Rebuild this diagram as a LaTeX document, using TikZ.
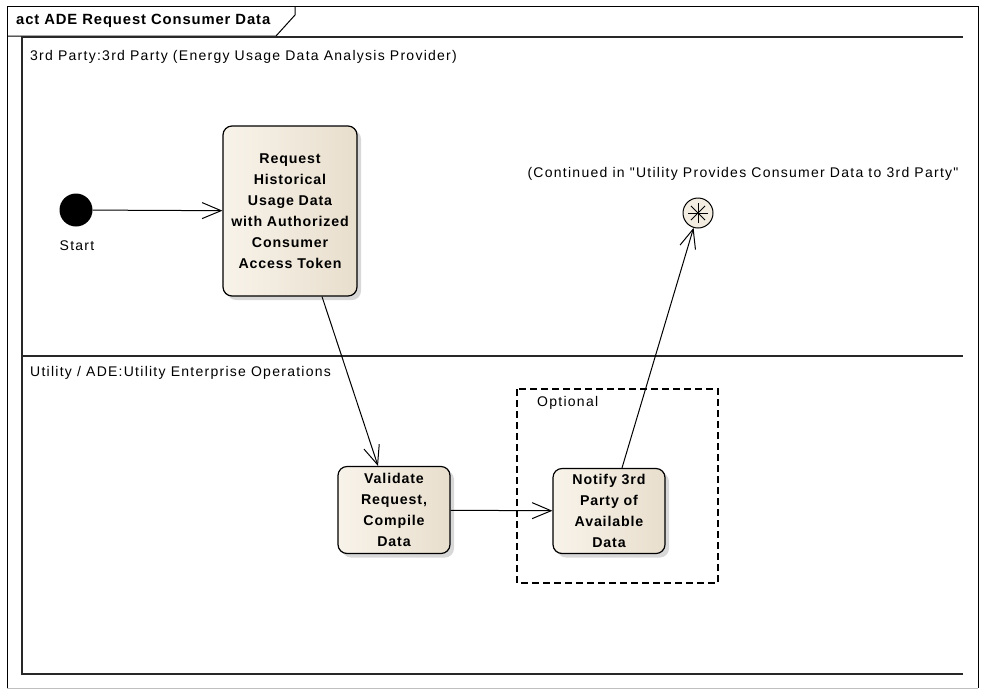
\documentclass[tikz,border=0pt]{standalone}
\usepackage{fontspec}
\setmainfont{Liberation Sans}
\newfontfamily\umlfont{Liberation Sans}[LetterSpace=9]
\newfontfamily\umlboldfont{Liberation Sans Bold}[LetterSpace=6]
\usepackage{tikz}
\usetikzlibrary{arrows.meta, positioning, shadows, calc}
\definecolor{actfill}{RGB}{248,243,234}
\definecolor{actshade}{RGB}{232,222,205}
\definecolor{laneline}{RGB}{40,40,40}
\tikzset{
  actbox/.style={
    draw, rounded corners=9pt, line width=1.2pt, align=center,
    font=\umlboldfont\fontsize{14.2}{21}\selectfont,
    left color=actfill, right color=actshade,
    drop shadow={shadow xshift=4pt, shadow yshift=-4pt, fill=black!30},
    inner sep=2pt
  },
  lanelabel/.style={
    font=\umlfont\fontsize{14}{16}\selectfont, anchor=west, inner sep=0pt
  },
  flowarrow/.style={
    -{Straight Barb[length=19pt, width=16pt, line width=1pt]}, line width=1pt
  },
  laneedge/.style={line width=1.4pt, color=laneline},
}

\begin{document}
\begin{tikzpicture}[x=1pt, y=-1pt]
  \useasboundingbox (0,0) rectangle (981,689);

  % ---- FRAME ----
  \draw[line width=1pt] (7,688) -- (7,6) -- (978,6) -- (978,688);
  \draw[line width=1pt, black!25] (7,688) -- (978,688);
  \draw[line width=1pt] (7,36) -- (276,36) -- (295,15) -- (295,6);
  \node[font=\umlboldfont\fontsize{14.8}{16}\selectfont, anchor=west,
    inner sep=0pt] (title) at (16,21) {act ADE Request Consumer Data};

  % ---- LANES ----
  \draw[laneedge] (963,37) -- (22,37) -- (22,674) -- (963,674);
  \draw[laneedge] (22,356) -- (963,356);
  \node[lanelabel] (lane1) at (30,57)
    {3rd Party:3rd Party (Energy Usage Data Analysis Provider)};
  \node[lanelabel] (lane2) at (30,373)
    {Utility / ADE:Utility Enterprise Operations};

  % ---- START ----
  \node[circle, fill=black, minimum size=33pt, inner sep=0pt]
    (start) at (76,210) {};
  \node[font=\umlfont\fontsize{14}{16}\selectfont] (startlbl) at (77,246) {Start};

  % ---- ACTIONS ----
  \node[actbox, minimum width=134pt, minimum height=170pt, text width=130pt]
    (req) at (290,211)
    {Request\\Historical\\Usage Data\\with Authorized\\Consumer\\Access Token};
  \node[actbox, minimum width=112pt, minimum height=87pt, text width=104pt]
    (val) at (394,510) {Validate\\Request,\\Compile\\Data};
  \node[actbox, minimum width=112pt, minimum height=85pt, text width=104pt]
    (note) at (609,511) {Notify 3rd\\Party of\\Available\\Data};

  % Optional region
  \draw[dashed, line width=1.1pt, dash pattern=on 7pt off 4pt]
    (517,389) rectangle (718,583);
  \node[lanelabel] (optlbl) at (537,403) {Optional};

  % ---- FLOW FINAL ----
  \node[circle, draw, line width=1pt, fill=actfill!70!actshade,
    minimum size=30pt, inner sep=0pt] (fin) at (698,213) {};
  \foreach \a in {0,45,90,135}
    \draw[line width=1pt] ($(fin.center)+(\a:10)$) -- ($(fin.center)+(\a+180:10)$);
  \node[font=\umlfont\fontsize{14}{16}\selectfont] (contlbl) at (743,174)
    {(Continued in "Utility Provides Consumer Data to 3rd Party"};

  % ---- FLOWS ----
  \draw[flowarrow] (start) -- (req);
  \draw[flowarrow] ([xshift=32pt]req.south) -- ([xshift=-16pt]val.north);
  \draw[flowarrow] (val) -- (note);
  \draw[flowarrow] ([xshift=13pt]note.north) -- (fin);
\end{tikzpicture}
\end{document}
